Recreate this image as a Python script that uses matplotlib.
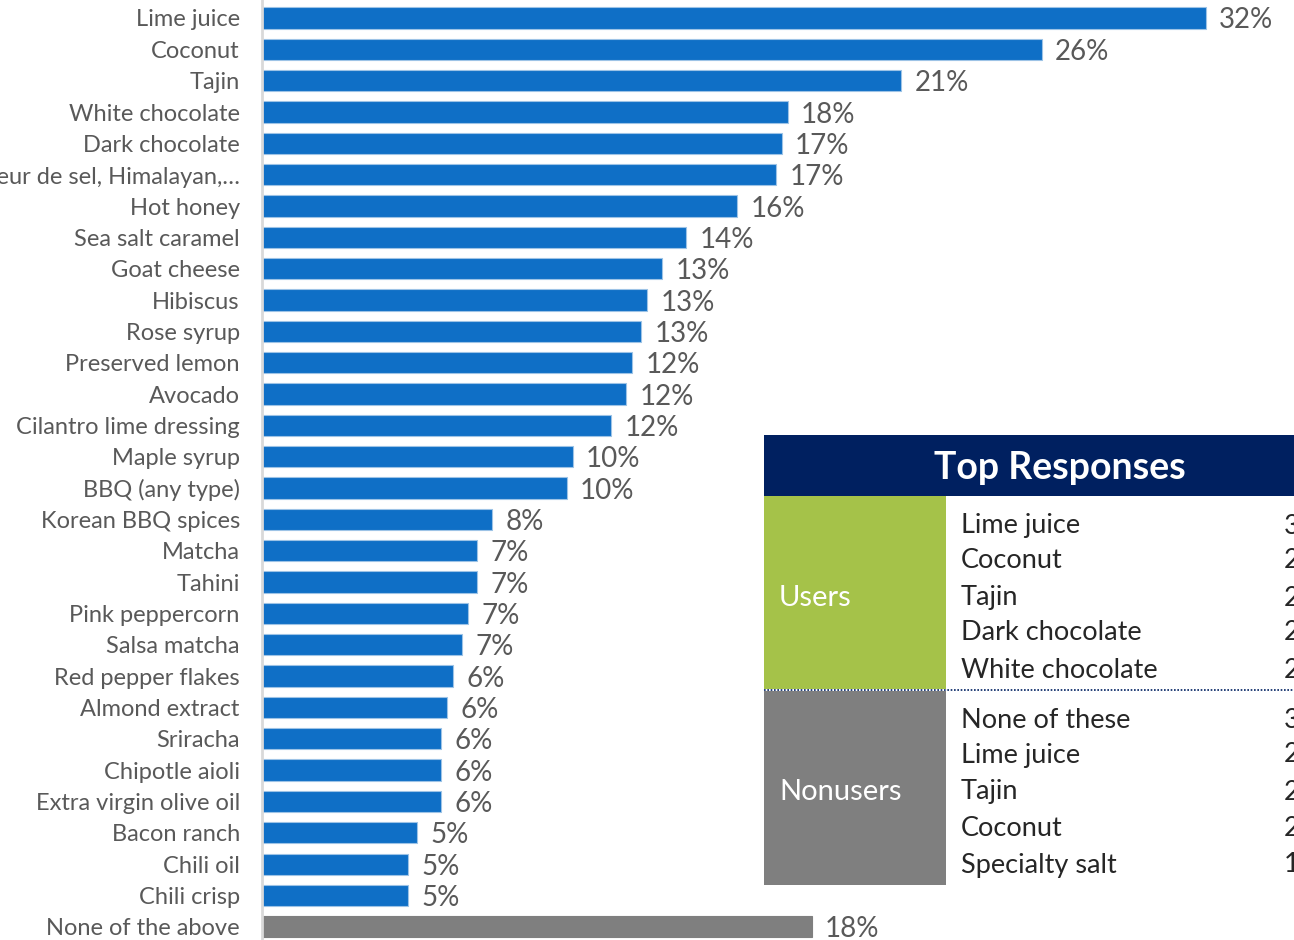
import matplotlib.pyplot as plt
from matplotlib.patches import Rectangle
from matplotlib.lines import Line2D

# toppings asked about, top to bottom
toppings = [
    'Lime juice', 'Coconut', 'Tajin', 'White chocolate', 'Dark chocolate',
    'Specialty salt (fleur de sel, Himalayan,…', 'Hot honey', 'Sea salt caramel',
    'Goat cheese', 'Hibiscus', 'Rose syrup', 'Preserved lemon', 'Avocado',
    'Cilantro lime dressing', 'Maple syrup', 'BBQ (any type)', 'Korean BBQ spices',
    'Matcha', 'Tahini', 'Pink peppercorn', 'Salsa matcha', 'Red pepper flakes',
    'Almond extract', 'Sriracha', 'Chipotle aioli', 'Extra virgin olive oil',
    'Bacon ranch', 'Chili oil', 'Chili crisp', 'None of the above',
]
pct = [31.6, 26.1, 21.4, 17.6, 17.4, 17.2, 15.9, 14.2, 13.4, 12.9,
       12.7, 12.4, 12.2, 11.7, 10.4, 10.2, 7.7, 7.2, 7.2, 6.9,
       6.7, 6.4, 6.2, 6.0, 6.0, 6.0, 5.2, 4.9, 4.9, 18.4]

# inset summary
users_top = ['Lime juice', 'Coconut', 'Tajin', 'Dark chocolate', 'White chocolate']
users_pct = ['32%', '26%', '21%', '20%', '20%']
nonusers_top = ['None of these', 'Lime juice', 'Tajin', 'Coconut', 'Specialty salt']
nonusers_pct = ['36%', '25%', '22%', '20%', '18%']

FONT = ['Lato', 'DejaVu Sans']
BLUE = '#0F6FC6'
GREY = '#7F7F7F'
TXT = '#595959'

plt.rcParams['font.family'] = FONT

fig = plt.figure(figsize=(12.94, 9.40), dpi=100)
ax = fig.add_axes([262 / 1294, 0, 1 - 262 / 1294, 1])

ypos = list(range(len(toppings)))
colors = [BLUE] * (len(toppings) - 1) + [GREY]
edges = ['#9DC3E6'] * (len(toppings) - 1) + [GREY]
ax.barh(ypos, pct, height=0.68, color=colors, edgecolor=edges, linewidth=0.8)

for y, v in zip(ypos, pct):
    ax.text(v + 0.45, y + 0.08, f'{v:.0f}%', va='center', ha='left',
            fontsize=20, color=TXT)

ax.set_xlim(0, 34.55)
ax.set_ylim(29.42, -0.574)
ax.set_yticks(ypos)
ax.set_yticklabels(toppings, fontsize=17, color=TXT)
ax.tick_params(axis='y', length=0, pad=16)
ax.set_xticks([])
for s in ['top', 'right', 'bottom']:
    ax.spines[s].set_visible(False)
ax.spines['left'].set_color('#D9D9D9')
ax.spines['left'].set_linewidth(2)

# "Top Responses" box
W, H = 1294, 940


def fx(px):
    return px / W


def fy(py):
    return 1 - py / H


def box(x0, y0, x1, y1, c):
    fig.add_artist(Rectangle((fx(x0), fy(y1)), fx(x1) - fx(x0), fy(y0) - fy(y1),
                             transform=fig.transFigure, facecolor=c,
                             edgecolor='none', zorder=5))


box(764, 496, 1300, 885, 'white')
box(764, 435, 1300, 496, '#002060')
box(764, 496, 946, 689, '#A5C249')
box(764, 691, 946, 885, GREY)
fig.add_artist(Line2D([fx(764), fx(1300)], [fy(690), fy(690)],
                      transform=fig.transFigure, color='#002060',
                      linestyle=(0, (1, 1)), linewidth=1.2, zorder=6))

fig.text(fx(1060), fy(468), 'Top Responses', color='white', fontsize=27,
         fontweight='bold', ha='center', va='center', zorder=7)
fig.text(fx(779), fy(598), 'Users', color='white', fontsize=21,
         ha='left', va='center', zorder=7)
fig.text(fx(779), fy(792), 'Nonusers', color='white', fontsize=21,
         ha='left', va='center', zorder=7)

rows_u = [526, 561, 598, 633, 670]
rows_n = [721, 755, 792, 828, 865]
for ys, names, vals in [(rows_u, users_top, users_pct), (rows_n, nonusers_top, nonusers_pct)]:
    for yy, name, val in zip(ys, names, vals):
        fig.text(fx(961), fy(yy), name, color='#262626', fontsize=19.5,
                 ha='left', va='center', zorder=7)
        fig.text(fx(1284), fy(yy), val, color='#262626', fontsize=19.5,
                 ha='left', va='center', zorder=7)

fig.savefig('out.png', dpi=100)
